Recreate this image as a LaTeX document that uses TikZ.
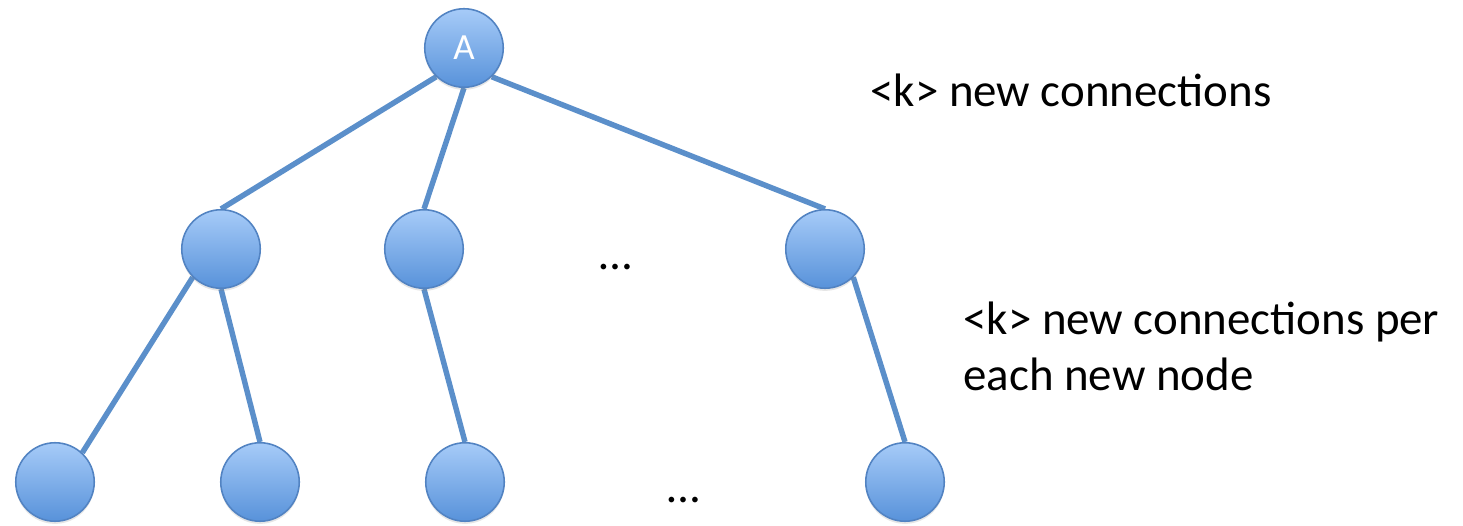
\documentclass[tikz,border=0pt]{standalone}
\usepackage{fontspec}
\setmainfont{Carlito}
\usetikzlibrary{backgrounds,shadows}
\definecolor{nodetop}{HTML}{A6CBF8}
\definecolor{nodebot}{HTML}{5892DA}
\definecolor{nodeline}{HTML}{5283C2}
\definecolor{linkblue}{HTML}{5B8FCA}
\begin{document}
\begin{tikzpicture}[x=0.02cm,y=-0.02cm]
	\def \toprow{48}
	\def \midrow{249}
	\def \botrow{482}
	\tikzstyle{t-node}=[circle,minimum size=1.57cm,inner sep=0pt,draw=nodeline,line width=0.9pt,top color=nodetop,bottom color=nodebot,drop shadow={opacity=0.2,shadow xshift=0pt,shadow yshift=-1.5pt},text=white,font=\fontsize{21}{25}\selectfont]
	\tikzstyle{link}=[draw=linkblue,line width=3.1pt]
	\tikzstyle{annot}=[anchor=base west,inner sep=0pt,align=left,font=\fontsize{26.7}{32}\selectfont]
	\tikzstyle{dots}=[anchor=base,inner sep=0pt,font=\fontsize{26.7}{32}\selectfont]
	\useasboundingbox (0,0) rectangle (1463,526);

	% root
	\node[t-node] 	(A)	at (464,\toprow)	{A};

	% first generation
	\node[t-node] 	(c1)	at (221,\midrow)	{};
	\node[t-node] 	(c2)	at (424,\midrow)	{};
	\node[t-node] 	(c3)	at (825,\midrow)	{};
	\node[dots] 	(d1)	at (616,270)		{…};

	% second generation
	\node[t-node] 	(g1)	at (55,\botrow)		{};
	\node[t-node] 	(g2)	at (260,\botrow)	{};
	\node[t-node] 	(g3)	at (465,\botrow)	{};
	\node[t-node] 	(g4)	at (905,\botrow)	{};
	\node[dots] 	(d2)	at (684,502)		{…};

	% labels
	\node[annot] 	(knew)	at (870,107)	{<k> new connections};
	\node[annot] 	(kper)	at (963,391)	{<k> new connections per\\each new node};

	\begin{scope}[on background layer]
	\path[link]
		(A.226)		edge	(c1.north)
		(A.south)	edge	(c2.north)
		(A.314)		edge	(c3.north)
		%
		(c1.225)	edge	(g1.47)
		(c1.south)	edge	(g2.north)
		(c2.south)	edge	(g3.north)
		(c3.315)	edge	(g4.north);
	\end{scope}
\end{tikzpicture}
\end{document}
